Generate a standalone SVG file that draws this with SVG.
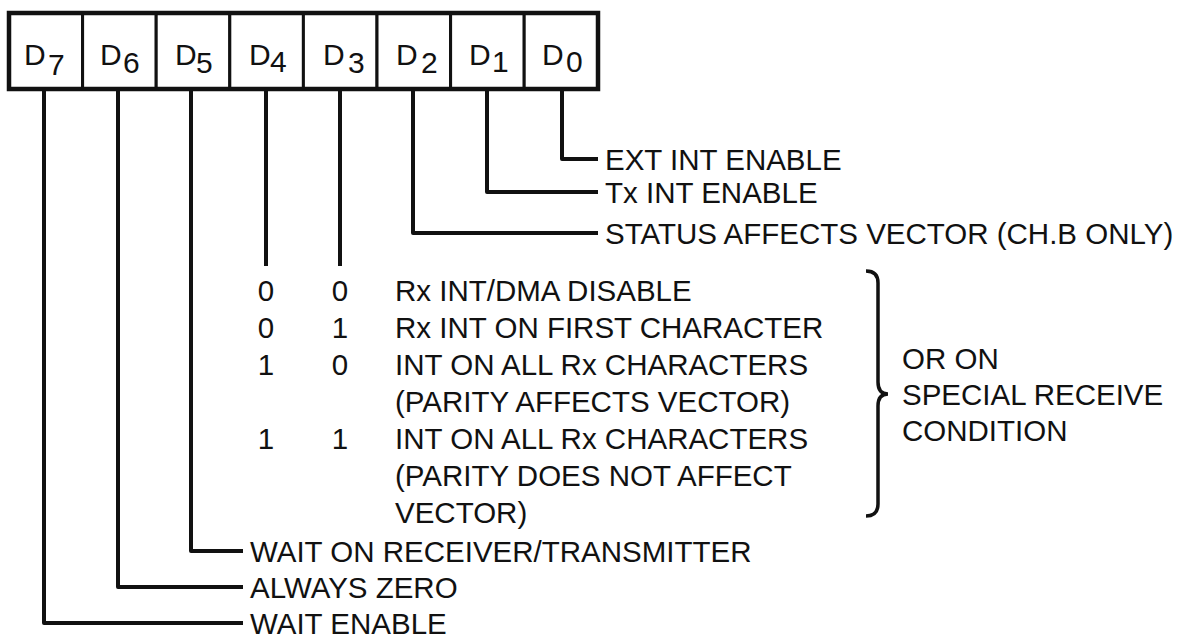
<svg xmlns="http://www.w3.org/2000/svg" width="1179" height="638" viewBox="0 0 1179 638">
<style>
.t{font-family:"Liberation Sans",Arial,Helvetica,sans-serif;font-size:29.5px;fill:#111}
.d{font-family:"Liberation Sans",Arial,Helvetica,sans-serif;font-size:30px;fill:#111}
.c{text-anchor:middle}
.w{fill:none;stroke:#111;stroke-width:4;stroke-linejoin:round;stroke-linecap:butt}
.cell{fill:#fff;stroke:#111;stroke-width:3}
.frame{fill:none;stroke:#111;stroke-width:4.5}
</style>
<rect width="1179" height="638" fill="#fff"/>
<g id="register">
  <g id="bit-D7"><rect class="cell" x="9" y="13" width="73.6" height="76"/><text class="d" x="24" y="65">D</text><text class="d" x="48" y="75">7</text></g>
  <g id="bit-D6"><rect class="cell" x="82.6" y="13" width="73.6" height="76"/><text class="d" x="100" y="65">D</text><text class="d" x="123" y="73">6</text></g>
  <g id="bit-D5"><rect class="cell" x="156.2" y="13" width="73.6" height="76"/><text class="d" x="175" y="65">D</text><text class="d" x="196" y="73">5</text></g>
  <g id="bit-D4"><rect class="cell" x="229.8" y="13" width="73.6" height="76"/><text class="d" x="249" y="65">D</text><text class="d" x="270" y="72">4</text></g>
  <g id="bit-D3"><rect class="cell" x="303.4" y="13" width="73.6" height="76"/><text class="d" x="323" y="65">D</text><text class="d" x="348" y="73">3</text></g>
  <g id="bit-D2"><rect class="cell" x="377" y="13" width="73.6" height="76"/><text class="d" x="396" y="65">D</text><text class="d" x="421" y="73">2</text></g>
  <g id="bit-D1"><rect class="cell" x="450.6" y="13" width="73.6" height="76"/><text class="d" x="469" y="65">D</text><text class="d" x="492" y="72">1</text></g>
  <g id="bit-D0"><rect class="cell" x="524.2" y="13" width="73.6" height="76"/><text class="d" x="542" y="65">D</text><text class="d" x="566" y="72">0</text></g>
  <rect class="frame" x="9" y="13" width="589" height="76"/>
</g>
<g id="connectors">
  <path class="w" d="M562,89 V159 H598"/>
  <path class="w" d="M487,89 V192 H598"/>
  <path class="w" d="M413,89 V233 H598"/>
  <path class="w" d="M266,89 V266"/>
  <path class="w" d="M340,89 V266"/>
  <path class="w" d="M191,89 V551 H243"/>
  <path class="w" d="M118,89 V587 H243"/>
  <path class="w" d="M44,89 V623 H243"/>
</g>
<g id="label-d0"><text class="t" x="605" y="170">EXT INT ENABLE</text></g>
<g id="label-d1"><text class="t" x="605" y="203">Tx INT ENABLE</text></g>
<g id="label-d2"><text class="t" x="605" y="244">STATUS AFFECTS VECTOR (CH.B ONLY)</text></g>
<g id="rx-table">
  <text class="t c" x="266" y="301">0</text><text class="t c" x="340" y="301">0</text><text class="t" x="395" y="301">Rx INT/DMA DISABLE</text>
  <text class="t c" x="266" y="338">0</text><text class="t c" x="340" y="338">1</text><text class="t" x="395" y="338">Rx INT ON FIRST CHARACTER</text>
  <text class="t c" x="266" y="375">1</text><text class="t c" x="340" y="375">0</text><text class="t" x="395" y="375">INT ON ALL Rx CHARACTERS</text>
  <text class="t" x="395" y="412">(PARITY AFFECTS VECTOR)</text>
  <text class="t c" x="266" y="449">1</text><text class="t c" x="340" y="449">1</text><text class="t" x="395" y="449">INT ON ALL Rx CHARACTERS</text>
  <text class="t" x="395" y="486">(PARITY DOES NOT AFFECT</text>
  <text class="t" x="395" y="523">VECTOR)</text>
</g>
<g id="brace">
  <path d="M866,271 Q878,271 878,283 L878,382 Q878,394 888,394 Q878,394 878,406 L878,504 Q878,516 866,516" fill="none" stroke="#111" stroke-width="3.5"/>
</g>
<g id="special-receive">
  <text class="t" x="902" y="369">OR ON</text>
  <text class="t" x="902" y="405">SPECIAL RECEIVE</text>
  <text class="t" x="902" y="441">CONDITION</text>
</g>
<g id="label-d5"><text class="t" x="250" y="562">WAIT ON RECEIVER/TRANSMITTER</text></g>
<g id="label-d6"><text class="t" x="250" y="598">ALWAYS ZERO</text></g>
<g id="label-d7"><text class="t" x="250" y="634">WAIT ENABLE</text></g>
</svg>
